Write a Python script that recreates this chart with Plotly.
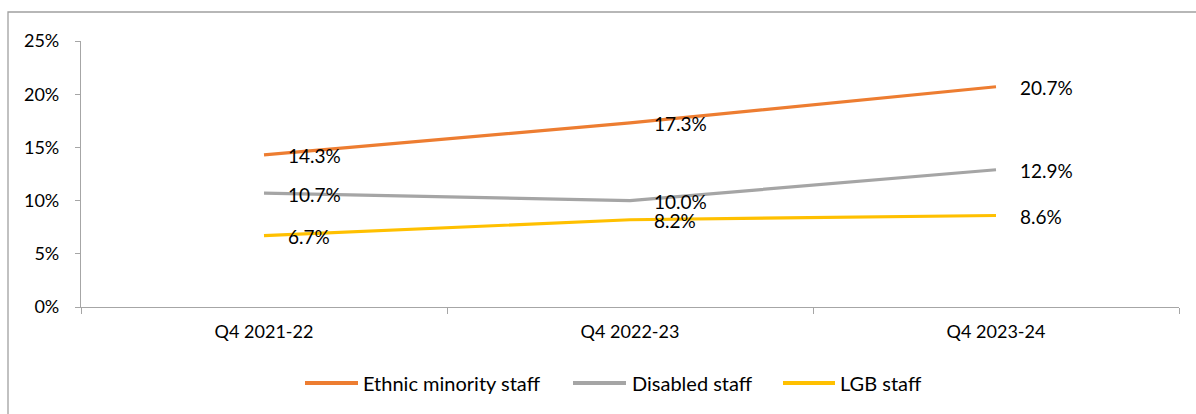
import plotly.graph_objects as go

# Share of staff by group, end of Q4 each financial year (%)
quarters = ["Q4 2021-22", "Q4 2022-23", "Q4 2023-24"]
ethnic_minority = [14.3, 17.3, 20.7]
disabled = [10.7, 10.0, 12.9]
lgb = [6.7, 8.2, 8.6]

series_names = ["Ethnic minority staff", "Disabled staff", "LGB staff"]
series_values = [ethnic_minority, disabled, lgb]
series_colors = ["#ED7D31", "#A5A5A5", "#FFC000"]

FONT = "Lato"
TEXT_COLOR = "#000000"
AXIS_COLOR = "#a6a6a6"

W, H = 1196, 414
M_L, M_R, M_T, M_B = 81, 17, 41, 107
PLOT_W = W - M_L - M_R
PLOT_H = H - M_T - M_B


def px_x(px):
    return (px - M_L) / PLOT_W


def px_y(py):
    return (H - M_B - py) / PLOT_H


fig = go.Figure()

for name, vals, color in zip(series_names, series_values, series_colors):
    fig.add_trace(go.Scatter(
        x=quarters, y=vals, name=name, mode="lines",
        line=dict(color=color, width=3.2),
        showlegend=False, hoverinfo="skip",
    ))
    # value labels to the right of each point
    for q, v in zip(quarters, vals):
        fig.add_annotation(
            x=q, y=v, text=f"{v:.1f}%", showarrow=False,
            xanchor="left", yanchor="middle", xshift=22, yshift=-1,
            font=dict(family=FONT, size=19, color=TEXT_COLOR),
        )

# legend row drawn under the axis
legend_items = [(305, 358, 361), (573, 626, 630), (783, 835, 838)]
leg_y = px_y(383)
for (x0, x1, tx), name, color in zip(legend_items, series_names, series_colors):
    fig.add_shape(type="line", xref="paper", yref="paper",
                  x0=px_x(x0), x1=px_x(x1), y0=leg_y, y1=leg_y,
                  line=dict(color=color, width=4))
    fig.add_annotation(xref="paper", yref="paper", x=px_x(tx), y=leg_y,
                       text=name, showarrow=False, xanchor="left", yanchor="middle",
                       font=dict(family=FONT, size=20, color=TEXT_COLOR))

# chart frame
fig.add_shape(type="rect", xref="paper", yref="paper",
              x0=px_x(8), x1=px_x(W + 20), y0=px_y(H + 20), y1=px_y(12),
              line=dict(color="#a0a0a0", width=1.3), fillcolor="rgba(0,0,0,0)", layer="below")

fig.update_layout(
    width=W, height=H,
    margin=dict(l=M_L, r=M_R, t=M_T, b=M_B),
    paper_bgcolor="white", plot_bgcolor="white",
    font=dict(family=FONT, size=18, color=TEXT_COLOR),
    xaxis=dict(
        type="category", range=[-0.5, 2.5],
        showline=True, linecolor=AXIS_COLOR, linewidth=1.3,
        ticks="outside", tickson="boundaries", ticklen=6, tickcolor=AXIS_COLOR,
        showgrid=False, zeroline=False, fixedrange=True,
        tickfont=dict(family=FONT, size=18, color=TEXT_COLOR),
        ticklabelstandoff=8,
    ),
    yaxis=dict(
        range=[0, 25], dtick=5, ticksuffix="%",
        showline=True, linecolor=AXIS_COLOR, linewidth=1.3,
        ticks="outside", ticklen=5, tickcolor=AXIS_COLOR,
        showgrid=False, zeroline=False, fixedrange=True,
        tickfont=dict(family=FONT, size=18, color=TEXT_COLOR),
        ticklabelstandoff=12,
    ),
)

fig.write_html("out.html", config={"displayModeBar": False})
